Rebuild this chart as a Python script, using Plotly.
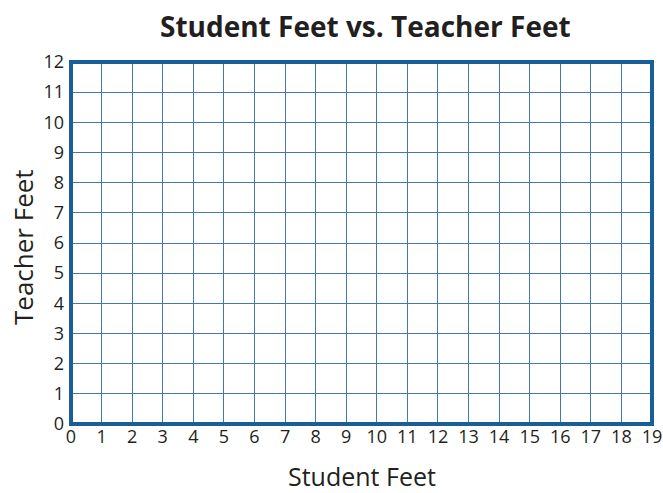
import plotly.graph_objects as go

# Data: the chart is an empty grid
x_ticks = list(range(0, 20))
y_ticks = list(range(0, 13))
student_feet = []
teacher_feet = []

title_text = "Student Feet vs. Teacher Feet"
x_label = "Student Feet"
y_label = "Teacher Feet"

border = "#175f96"
grid = "#4479a8"
text_col = "#231f20"

W, H = 663, 493
L, R, T, B = 71, 11, 62, 69

fig = go.Figure()
fig.add_trace(go.Scatter(x=student_feet, y=teacher_feet, mode="markers", showlegend=False))

fig.update_layout(
    width=W, height=H,
    margin=dict(l=L, r=R, t=T, b=B),
    paper_bgcolor="white", plot_bgcolor="white",
    font=dict(family="Open Sans", color=text_col),
    title=dict(text="<b>" + title_text + "</b>", x=0.551, xanchor="center",
               y=1 - 27 / H, yanchor="middle",
               font=dict(size=28, family="Open Sans", color=text_col)),
    showlegend=False,
)
fig.add_shape(type="rect", xref="paper", yref="paper", x0=0, x1=1, y0=0, y1=1,
              line=dict(color=border, width=4), fillcolor="rgba(0,0,0,0)", layer="above")

plot_h = H - T - B
plot_w = W - L - R
fig.add_annotation(text=x_label, xref="paper", yref="paper",
                   x=(362 - L) / plot_w, y=-(476 - (H - B)) / plot_h,
                   xanchor="center", yanchor="middle", showarrow=False,
                   font=dict(size=25, color=text_col))
fig.add_annotation(text=y_label, xref="paper", yref="paper", textangle=-90,
                   x=-(L - 23) / plot_w, y=((H - B) - 247) / plot_h,
                   xanchor="center", yanchor="middle", showarrow=False,
                   font=dict(size=26, color=text_col))

fig.update_xaxes(
    range=[0, 19], tickvals=x_ticks, ticktext=[str(v) for v in x_ticks],
    showgrid=True, gridcolor=grid, gridwidth=1.3,
    showline=False, zeroline=False, ticks="", tickfont=dict(size=18, color=text_col),
    automargin=False, ticklabeloverflow="allow",
)
fig.update_yaxes(
    range=[0, 12], tickvals=y_ticks, ticktext=[str(v) for v in y_ticks],
    showgrid=True, gridcolor=grid, gridwidth=1.3,
    showline=False, zeroline=False, ticks="", tickfont=dict(size=18, color=text_col),
    ticklabelstandoff=6, automargin=False, ticklabeloverflow="allow",
)

fig.write_html("out.html", post_script="document.body.style.margin='0';",
               config={"displayModeBar": False})
